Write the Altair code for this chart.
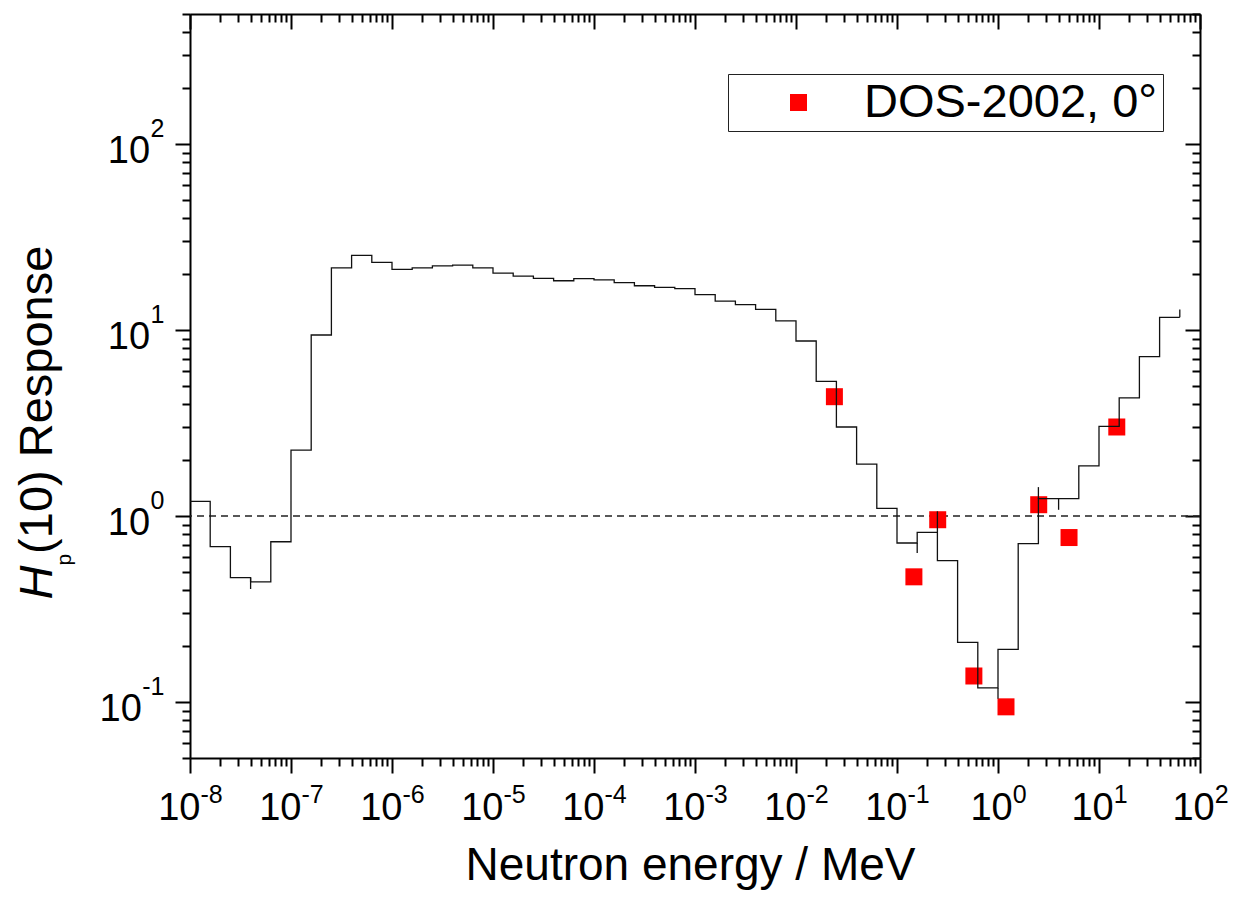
import altair as alt
import pandas as pd

# ---------------- data ----------------
# histogram bin edges (log10 of neutron energy in MeV)
bin_edges_exp = [-8.0, -7.8, -7.6, -7.4, -7.2, -7.0, -6.8, -6.6, -6.4, -6.2,
                 -6.0, -5.8, -5.6, -5.4, -5.2, -5.0, -4.8, -4.6, -4.4, -4.2,
                 -4.0, -3.8, -3.6, -3.4, -3.2, -3.0, -2.8, -2.6, -2.4, -2.2,
                 -2.0, -1.8, -1.6, -1.4, -1.2, -1.0, -0.8, -0.6, -0.4, -0.2,
                 0.0, 0.2, 0.4, 0.6, 0.8, 1.0, 1.2, 1.4, 1.6, 1.8]
# calculated Hp(10) response per bin
bin_response = [1.20, 0.684, 0.466, 0.443, 0.727, 2.26, 9.4, 21.6, 25.2, 23.1,
                21.2, 21.6, 22.1, 22.3, 21.6, 20.2, 19.5, 18.97, 18.4, 18.9,
                18.6, 18.0, 17.3, 16.96, 16.7, 15.5, 14.3, 13.7, 12.9, 11.2,
                8.73, 5.30, 3.01, 1.90, 1.10, 0.716, 0.817, 0.575, 0.209, 0.119,
                0.192, 0.710, 1.24, 1.24, 1.86, 3.03, 4.32, 7.19, 11.7]
# small uncertainty ticks on the histogram
err_exp = [-7.4, -0.8, -0.6, 0.0, 0.4, 0.6, 1.8]
err_lo = [0.405, 0.633, 0.817, 0.104, 1.24, 1.08, 11.7]
err_hi = [0.466, 0.716, 1.06, 0.119, 1.43, 1.24, 12.9]
# measured points
dos_energy = [0.024, 0.147, 0.253, 0.577, 1.2, 2.53, 5.05, 15.0]
dos_response = [4.38, 0.471, 0.955, 0.138, 0.0942, 1.15, 0.766, 3.01]
series_name = "DOS-2002, 0°"
reference_level = [1.0]

x_title = "Neutron energy / MeV"
y_title_main = "H"
y_title_sub = "p"
y_title_rest = "(10) Response"

# ---------------- tables ----------------
step_x = [10 ** e for e in bin_edges_exp]
step_y = bin_response + [bin_response[-1]]
step_df = pd.DataFrame({"E": step_x, "R": step_y})
pts_df = pd.DataFrame({"E": dos_energy, "R": dos_response, "s": [series_name] * len(dos_energy)})
err_df = pd.DataFrame({"E": [10 ** e for e in err_exp], "lo": err_lo, "hi": err_hi})
ref_df = pd.DataFrame({"R": reference_level})

# tick positions
x_major = [10.0 ** e for e in range(-8, 3)]
x_ticks = [m * 10.0 ** e for e in range(-8, 2) for m in range(1, 10)] + [100.0]
y_major = [0.1, 1.0, 10.0, 100.0]
y_ticks = ([m * 0.01 for m in range(5, 10)] +
           [m * 10.0 ** e for e in range(-1, 2) for m in range(1, 10)] +
           [100.0, 200.0, 300.0, 400.0, 500.0])

W, H = 1010, 744
FONT = "Liberation Sans"
MAJ = "abs(log(datum.value)/LN10 - round(log(datum.value)/LN10)) < 0.001"
TICK = {"condition": {"test": MAJ, "value": 15}, "value": 8}
EXP = "'' + round(log(datum.value)/LN10)"

xs = alt.Scale(type="log", domain=[1e-8, 1e2], nice=False)
ys = alt.Scale(type="log", domain=[0.05, 500], nice=False)

common = dict(grid=False, tickColor="black", domainColor="black", labelColor="black",
              labelFont=FONT, titleFont=FONT, titleColor="black", titleFontWeight="normal",
              labelOverlap=False, labelFlush=False)

XOFF = {"condition": {"test": "datum.value < 0.5", "value": 10.0}, "value": 14.2}

# bottom axis: ticks + "10"
ax_x_main = alt.Axis(orient="bottom", values=x_ticks, tickSize=TICK, tickWidth=2, domainWidth=2,
                     labelExpr=f"({MAJ}) ? '10' : ''", labelFontSize=38, labelAlign="right",
                     labelBaseline="alphabetic", labelPadding=46, labelOffset=XOFF,
                     title=x_title, titleFontSize=46, titleX=500, titleY=121,
                     titleAlign="center", titleBaseline="alphabetic", titleAngle=0, **common)
# bottom axis: exponents
ax_x_exp = alt.Axis(orient="bottom", values=x_major, ticks=False, domain=False,
                    labelExpr=EXP, labelFontSize=25, labelAlign="left", labelBaseline="alphabetic",
                    labelPadding=44, labelOffset=XOFF, title="", **common)
# top axis (inward ticks)
ax_x_top = alt.Axis(orient="bottom", offset=-H, values=x_ticks, tickSize=TICK, tickWidth=2,
                    domainWidth=2, labels=False, title="", **common)

# left axis: ticks + "10"
ax_y_main = alt.Axis(orient="left", values=y_ticks, tickSize=TICK, tickWidth=2, domainWidth=2,
                     labelExpr=f"({MAJ}) ? '10' : ''", labelFontSize=38, labelAlign="right",
                     labelBaseline="alphabetic", labelOffset=18.7,
                     labelPadding={"condition": {"test": "datum.value < 0.5", "value": 33.7}, "value": 25.4},
                     title=y_title_rest, titleFontSize=47, titleAngle=270, titleAlign="left",
                     titleBaseline="alphabetic", titleX=-138.3, titleY=539.4, **common)
# left axis: exponents + italic H
ax_y_exp = alt.Axis(orient="left", values=y_major, ticks=False, domain=False,
                    labelExpr=EXP, labelFontSize=25, labelAlign="right", labelBaseline="alphabetic",
                    labelOffset=-7.3, labelPadding=26,
                    title=y_title_main, titleFontSize=47, titleFontStyle="italic", titleAngle=270,
                    titleAlign="left", titleBaseline="alphabetic", titleX=-138.3, titleY=585, **common)
# right axis (inward ticks)
ax_y_right = alt.Axis(orient="left", offset=-W, values=y_ticks, tickSize=TICK, tickWidth=2,
                      domainWidth=2, labels=False, title="", **common)
# subscript p
ax_y_sub = alt.Axis(orient="left", ticks=False, domain=False, labels=False,
                    title=y_title_sub, titleFontSize=21, titleAngle=270, titleAlign="left",
                    titleBaseline="alphabetic", titleX=-119.4, titleY=551.1, **common)

ref_rule = alt.Chart(ref_df).mark_rule(color="#222222", strokeWidth=1.4, strokeDash=[7, 5]).encode(
    y=alt.Y("R:Q", scale=ys, axis=ax_y_sub)
)

points = alt.Chart(pts_df).mark_point(shape="square", filled=True, size=289, opacity=1,
                                      strokeWidth=0).encode(
    x=alt.X("E:Q", scale=xs, axis=ax_x_exp),
    y=alt.Y("R:Q", scale=ys, axis=ax_y_exp),
    color=alt.Color("s:N", scale=alt.Scale(domain=[series_name], range=["#ff0000"]),
                    legend=alt.Legend(title=None, orient="none", legendX=538, legendY=60,
                                      labelFontSize=47, labelFont=FONT, labelColor="black",
                                      symbolType="square", symbolSize=289, symbolStrokeWidth=0,
                                      symbolOffset=42, labelOffset=42, padding=5,
                                      strokeColor="#222222", fillColor="white", labelLimit=600))
)

line = alt.Chart(step_df).mark_line(interpolate="step-after", color="#111111", strokeWidth=1.3).encode(
    x=alt.X("E:Q", scale=xs, axis=ax_x_main),
    y=alt.Y("R:Q", scale=ys, axis=ax_y_main)
)

errs = alt.Chart(err_df).mark_rule(color="#111111", strokeWidth=1.3).encode(
    x=alt.X("E:Q", scale=xs, axis=ax_x_top),
    y=alt.Y("lo:Q", scale=ys, axis=ax_y_right),
    y2="hi:Q"
)

chart = alt.layer(ref_rule, points, line, errs).resolve_axis(
    x="independent", y="independent"
).properties(
    width=W, height=H,
    autosize=alt.AutoSizeParams(type="none"),
    padding={"left": 190, "top": 14, "right": 40, "bottom": 159},
    background="white"
).configure_view(strokeWidth=0).configure(font=FONT)

chart.save("out.html", embed_options={"renderer": "svg", "actions": False})
